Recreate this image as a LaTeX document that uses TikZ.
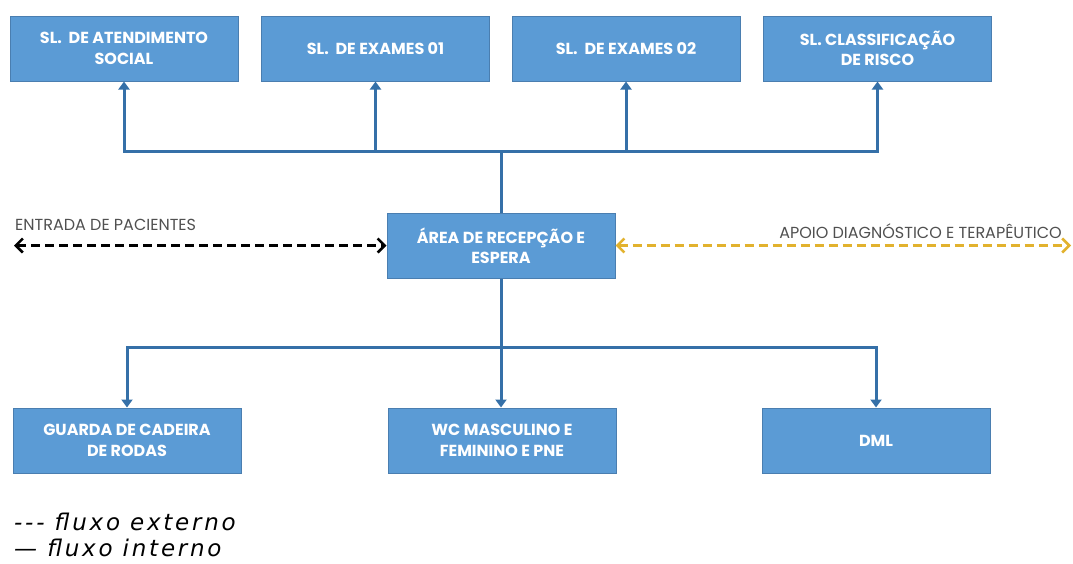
\documentclass[tikz,border=0pt]{standalone}
\usepackage{fontspec}
\setmainfont{Poppins}
\newfontfamily\legendfont{DejaVu Sans}[LetterSpace=12]
\usetikzlibrary{arrows.meta}

\definecolor{boxblue}{HTML}{5B9BD5}
\definecolor{boxedge}{HTML}{4A7EB0}
\definecolor{linkblue}{HTML}{3570A8}
\definecolor{auxgold}{HTML}{E2B22E}
\definecolor{labelgray}{HTML}{505050}

\tikzset{
  room/.style={draw=boxedge, line width=1pt, fill=boxblue, text=white,
    minimum width=228pt, minimum height=65pt, align=center,
    font=\fontsize{16}{20.5}\selectfont\bfseries, inner sep=2pt},
  trunk/.style={draw=linkblue, line width=3pt},
  flow/.style={trunk, -{Triangle[length=8pt,width=11pt]}},
  extflow/.style={draw=black, line width=2.6pt, dash pattern=on 9pt off 5pt,
    {Straight Barb[length=7pt,width=14pt]}-{Straight Barb[length=7pt,width=14pt]}},
  auxflow/.style={extflow, draw=auxgold},
  tag/.style={text=labelgray, font=\fontsize{16}{18}\selectfont, inner sep=0pt},
  legend/.style={font=\legendfont\itshape\fontsize{23}{26}\selectfont, inner sep=0pt, anchor=west}
}

\begin{document}
\begin{tikzpicture}[x=1pt, y=-1pt]
  \useasboundingbox (0,0) rectangle (1073,563);

  % rooms reached from the reception
  \node[room] (social)  at (124,48.5)   {SL.\ \ DE ATENDIMENTO\\SOCIAL};
  \node[room] (exame1)  at (375.5,48.5) {SL.\ \ DE EXAMES 01};
  \node[room] (exame2)  at (626,48.5)   {SL.\ \ DE EXAMES 02};
  \node[room] (risco)   at (877.5,48.5) {SL. CLASSIFICAÇÃO\\DE RISCO};

  % reception
  \node[room] (recep)   at (501,245.5)  {ÁREA DE RECEPÇÃO E\\ESPERA};

  % support rooms
  \node[room] (cadeira) at (127,440.5)  {GUARDA DE CADEIRA\\DE RODAS};
  \node[room] (wc)      at (502,440.5)  {WC MASCULINO E\\FEMININO E PNE};
  \node[room] (dml)     at (876,440.5)  {DML};

  % internal flow, upper branch
  \coordinate (topbus) at (501,151);
  \draw[trunk] (recep.north) -- (topbus);
  \draw[flow] (topbus) -| (social.south);
  \draw[flow] (topbus) -| (exame1.south);
  \draw[flow] (topbus) -| (exame2.south);
  \draw[flow] (topbus) -| (risco.south);

  % internal flow, lower branch
  \coordinate (botbus) at (501,347);
  \draw[trunk] (recep.south) -- (botbus);
  \draw[flow] (botbus) -| (cadeira.north);
  \draw[flow] (botbus) -- (botbus |- wc.north);
  \draw[flow] (botbus) -| (dml.north);

  % external flows
  \coordinate (entrada) at (14,245.5);
  \coordinate (apoio) at (1071,245.5);
  \draw[extflow] (entrada) -- (recep.west);
  \draw[auxflow] (recep.east) -- (apoio);
  \node[tag, anchor=west] (lblent) at (15,225) {ENTRADA DE PACIENTES};
  \node[tag, anchor=east] (lblapoio) at (1062,231) {APOIO DIAGNÓSTICO E TERAPÊUTICO};

  % legend
  \node[legend] (legext) at (14,522) {{-}{-}{-} fluxo externo};
  \node[legend] (legint) at (14,548) {— fluxo interno};
\end{tikzpicture}
\end{document}
